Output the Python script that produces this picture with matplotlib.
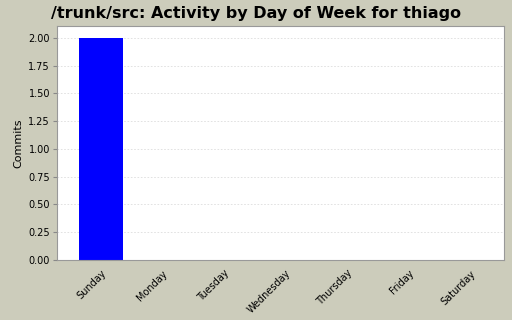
import matplotlib
matplotlib.use("Agg")
import matplotlib.pyplot as plt

days = ["Sunday", "Monday", "Tuesday", "Wednesday", "Thursday", "Friday", "Saturday"]
commits = [2, 0, 0, 0, 0, 0, 0]
yticks = [0.0, 0.25, 0.5, 0.75, 1.0, 1.25, 1.5, 1.75, 2.0]

bg = "#ccccbb"
fig = plt.figure(figsize=(5.12, 3.2), dpi=100, facecolor=bg)
ax = fig.add_axes([57/512, 1 - 260/320, 447/512, 234/320])
ax.set_facecolor("white")

x = list(range(len(days)))
ax.bar(x, commits, width=0.72, color="#0000ff", zorder=2)

ax.set_xlim(-0.715, 6.55)
ax.set_ylim(0, 2.108)
ax.set_yticks(yticks)
ax.set_yticklabels(["%.2f" % v for v in yticks], fontsize=7)
ax.set_xticks(x)
ax.set_xticklabels(days, rotation=45, ha="right", rotation_mode="anchor", fontsize=7)
ax.tick_params(axis="x", length=0, pad=6)
ax.tick_params(axis="y", length=3, color="#888888", pad=2)
ax.yaxis.grid(True, linestyle=(0, (2, 2)), color="#dddddd", linewidth=0.6, zorder=0)
for s in ax.spines.values():
    s.set_color("#999999")
    s.set_linewidth(0.8)

ax.set_ylabel("Commits", fontsize=8)
fig.suptitle("/trunk/src: Activity by Day of Week for thiago", fontsize=11.5, fontweight="bold", y=0.98)

fig.savefig("out.png", dpi=100, facecolor=bg)
